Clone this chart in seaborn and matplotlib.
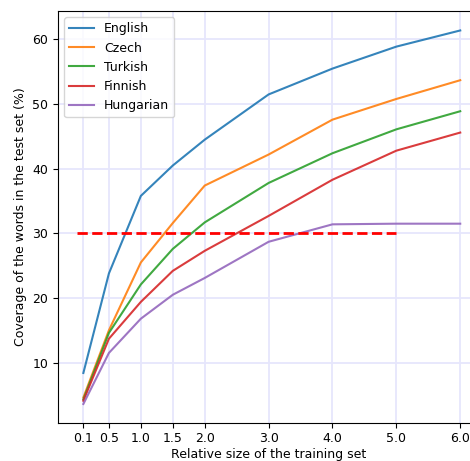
import matplotlib
matplotlib.use('Agg')

import pandas as pd
import seaborn as sns
from matplotlib import pyplot as plt

# Relative size of the training set
sizes = [0.1, 0.5, 1.0, 1.5, 2.0, 3.0, 4.0, 5.0, 6.0]

# Coverage (%) per language
english = [8.4, 23.8, 35.8, 40.5, 44.5, 51.5, 55.5, 58.9, 61.4]
czech = [4.6, 15.0, 25.5, 31.6, 37.4, 42.2, 47.6, 50.8, 53.7]
turkish = [4.3, 14.6, 22.1, 27.6, 31.7, 37.8, 42.4, 46.1, 48.9]
finnish = [4.1, 13.7, 19.4, 24.2, 27.3, 32.7, 38.3, 42.8, 45.6]
hungarian = [3.6, 11.5, 16.8, 20.5, 23.1, 28.7, 31.4, 31.5, 31.5]

languages = ['English', 'Czech', 'Turkish', 'Finnish', 'Hungarian']
colors = ['#1f77b4', '#ff7f0e', '#2ca02c', '#d62728', '#9467bd']

# threshold line
thresh_x = [0.0, 5.0]
thresh_y = [30, 30]

rows = []
for lang, vals in zip(languages, [english, czech, turkish, finnish, hungarian]):
    for s, v in zip(sizes, vals):
        rows.append({'size': s, 'coverage': v, 'language': lang})
df = pd.DataFrame(rows)

plt.rcParams['font.size'] = 9

fig = plt.figure(figsize=(4.7, 4.61), dpi=100)
ax = fig.add_axes([0.123, 0.083, 0.897, 0.893])

sns.lineplot(data=df, x='size', y='coverage', hue='language',
             hue_order=languages, palette=colors, linewidth=1.5,
             alpha=0.9, ax=ax)
ax.plot(thresh_x, thresh_y, color='red', linestyle='--', linewidth=2)

ax.set_xticks(sizes)
ax.set_xticklabels(['{0:.1f}'.format(s) for s in sizes])
ax.set_yticks([10, 20, 30, 40, 50, 60])
ax.set_xlim(-0.3, 6.3)
ax.set_ylim(0.7, 64.4)
ax.grid(color='#e6e6fc', linewidth=1.3)
ax.set_axisbelow(True)

ax.set_xlabel('Relative size of the training set', labelpad=2)
ax.set_ylabel('Coverage of the words in the test set (%)')

leg = ax.legend(loc='upper left')
leg.set_title(None)

plt.savefig('out.png', dpi=100)
